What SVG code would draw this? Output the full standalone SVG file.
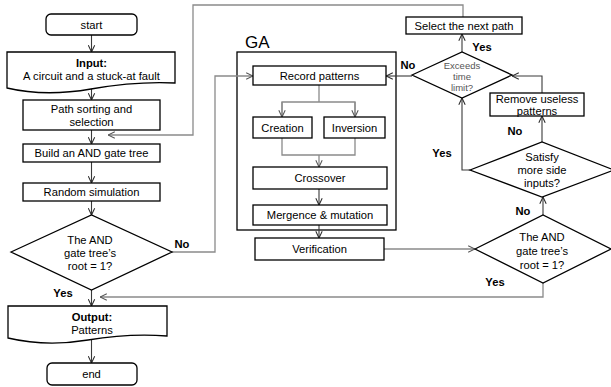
<svg xmlns="http://www.w3.org/2000/svg" width="611" height="387" viewBox="0 0 611 387">
  <style>
    .box { fill: #fff; stroke: #000; stroke-width: 1.3; }
    .t { font-family: "Liberation Sans", Arial, sans-serif; font-size: 11.2px; fill: #000; text-anchor: middle; dominant-baseline: central; }
    .b { font-weight: bold; }
    .small { font-size: 9.5px; fill: #555; }
    .ga { font-family: "Liberation Sans", Arial, sans-serif; font-size: 17px; fill: #000; }
    .dark { fill: none; stroke: #3a3a3a; stroke-width: 1.1; }
    .grey { fill: none; stroke: #8a8a8a; stroke-width: 1.3; }
  </style>
  <defs>
    <marker id="ahD" viewBox="0 0 10 10" refX="9.5" refY="5" markerWidth="8" markerHeight="8" markerUnits="userSpaceOnUse" orient="auto">
      <path d="M1,1 L9.5,5 L1,9" fill="none" stroke="#2a2a2a" stroke-width="1.3"/>
    </marker>
    <marker id="ahG" viewBox="0 0 10 10" refX="9.5" refY="5" markerWidth="8" markerHeight="8" markerUnits="userSpaceOnUse" orient="auto">
      <path d="M1,1 L9.5,5 L1,9" fill="none" stroke="#555" stroke-width="1.3"/>
    </marker>
  </defs>

  <!-- GA container -->
  <g id="ga">
    <rect x="237" y="52" width="159" height="178" fill="none" stroke="#000" stroke-width="1.3"/>
    <text class="ga" x="245" y="48">GA</text>
  </g>

  <!-- connectors -->
  <g id="connectors">
    <line class="dark" x1="91.5" y1="35" x2="91.5" y2="52" marker-end="url(#ahD)"/>
    <line class="dark" x1="91.5" y1="88" x2="91.5" y2="100" marker-end="url(#ahD)"/>
    <line class="dark" x1="91.5" y1="130" x2="91.5" y2="144" marker-end="url(#ahD)"/>
    <line class="dark" x1="91.5" y1="162" x2="91.5" y2="183" marker-end="url(#ahD)"/>
    <line class="dark" x1="91.5" y1="201" x2="91.5" y2="215" marker-end="url(#ahD)"/>
    <line class="dark" x1="91.5" y1="290" x2="91.5" y2="306" marker-end="url(#ahD)"/>
    <line class="dark" x1="91.5" y1="340" x2="91.5" y2="363" marker-end="url(#ahD)"/>
    <!-- diamond 1 No -> GA -->
    <polyline class="grey" points="172,252 215,252 215,76 253,76" marker-end="url(#ahG)"/>
    <!-- select next path -> path sorting -->
    <polyline class="grey" points="463,17 463,5 193,5 193,135 108,135" marker-end="url(#ahG)"/>
    <!-- GA internal -->
    <polyline class="grey" points="319,85 319,102"/>
    <polyline class="grey" points="282,116 282,102 355,102 355,116"/>
    <line class="grey" x1="282" y1="102" x2="282" y2="117" marker-end="url(#ahG)"/>
    <line class="grey" x1="355" y1="102" x2="355" y2="117" marker-end="url(#ahG)"/>
    <polyline class="grey" points="282,138 282,155 355,155 355,138"/>
    <line class="grey" x1="319" y1="155" x2="319" y2="167" marker-end="url(#ahG)"/>
    <line class="dark" x1="319" y1="189" x2="319" y2="205" marker-end="url(#ahD)"/>
    <line class="dark" x1="319" y1="225" x2="319" y2="238" marker-end="url(#ahD)"/>
    <!-- verification -> diamond 2 -->
    <line class="grey" x1="384" y1="249" x2="475" y2="249" marker-end="url(#ahG)"/>
    <!-- diamond 2 Yes -> output -->
    <polyline class="grey" points="543,283 543,297 100,297" marker-end="url(#ahG)"/>
    <!-- diamond 2 No -> diamond 4 -->
    <line class="dark" x1="543" y1="215" x2="543" y2="197" marker-end="url(#ahD)"/>
    <!-- diamond 4 No -> remove -->
    <line class="dark" x1="542" y1="142" x2="542" y2="116" marker-end="url(#ahD)"/>
    <!-- diamond 4 Yes -> diamond 3 -->
    <polyline class="dark" points="470,170 462,170 462,98" marker-end="url(#ahD)"/>
    <!-- remove -> diamond 3 -->
    <polyline class="dark" points="542,93 542,76 512,76" marker-end="url(#ahD)"/>
    <!-- diamond 3 Yes -> select -->
    <line class="dark" x1="462" y1="52" x2="462" y2="34" marker-end="url(#ahD)"/>
    <!-- diamond 3 No -> record -->
    <line class="dark" x1="412" y1="76" x2="386" y2="76" marker-end="url(#ahD)"/>
  </g>

  <g id="start">
    <rect class="box" x="46" y="14" width="91" height="21" rx="5"/>
    <text class="t" x="91.5" y="24.5">start</text>
  </g>
  <g id="input">
    <path class="box" d="M7,52 H175 V83 Q137,81 91,89 T7,88 Z"/>
    <text class="t b" x="91.5" y="63">Input:</text>
    <text class="t" x="91.5" y="76">A circuit and a stuck-at fault</text>
  </g>
  <g id="path-sorting">
    <rect class="box" x="23" y="100" width="137" height="30"/>
    <text class="t" x="91.5" y="109">Path sorting and</text>
    <text class="t" x="91.5" y="122">selection</text>
  </g>
  <g id="build-tree">
    <rect class="box" x="23" y="144" width="137" height="18"/>
    <text class="t" x="91.5" y="153">Build an AND gate tree</text>
  </g>
  <g id="random-sim">
    <rect class="box" x="23" y="183" width="137" height="18"/>
    <text class="t" x="91.5" y="192">Random simulation</text>
  </g>
  <g id="root-check-1">
    <polygon class="box" points="11,252 91.5,215 172,252 91.5,290"/>
    <text class="t" x="90" y="240">The AND</text>
    <text class="t" x="90" y="253">gate tree’s</text>
    <text class="t" x="90" y="266">root = 1?</text>
    <text class="t b" x="182" y="244">No</text>
    <text class="t b" x="63" y="293">Yes</text>
  </g>
  <g id="output">
    <path class="box" d="M8,306 H167 V336 Q130,333 88,340 T8,338 Z"/>
    <text class="t b" x="92" y="317">Output:</text>
    <text class="t" x="92" y="330">Patterns</text>
  </g>
  <g id="end">
    <rect class="box" x="47" y="363" width="90" height="22" rx="5"/>
    <text class="t" x="91.5" y="374">end</text>
  </g>

  <g id="record">
    <rect class="box" x="253" y="66" width="133" height="19"/>
    <text class="t" x="319.5" y="76">Record patterns</text>
  </g>
  <g id="creation">
    <rect class="box" x="253" y="117" width="59" height="21"/>
    <text class="t" x="282.5" y="128">Creation</text>
  </g>
  <g id="inversion">
    <rect class="box" x="324" y="117" width="61" height="21"/>
    <text class="t" x="354.5" y="128">Inversion</text>
  </g>
  <g id="crossover">
    <rect class="box" x="253" y="167" width="134" height="22"/>
    <text class="t" x="320" y="178">Crossover</text>
  </g>
  <g id="mergence">
    <rect class="box" x="253" y="205" width="134" height="20"/>
    <text class="t" x="320" y="215">Mergence &amp; mutation</text>
  </g>
  <g id="verification">
    <rect class="box" x="255" y="238" width="129" height="22"/>
    <text class="t" x="319.5" y="249">Verification</text>
  </g>

  <g id="select-next">
    <rect class="box" x="406" y="17" width="116" height="17"/>
    <text class="t" x="464" y="26">Select the next path</text>
  </g>
  <g id="time-limit">
    <polygon class="box" points="412,75 462,52 512,75 462,98"/>
    <text class="t small" x="462" y="65">Exceeds</text>
    <text class="t small" x="462" y="76">time</text>
    <text class="t small" x="462" y="87">limit?</text>
    <text class="t b" x="408" y="65">No</text>
    <text class="t b" x="482" y="47">Yes</text>
  </g>
  <g id="remove-useless">
    <rect class="box" x="490" y="93" width="94" height="23"/>
    <text class="t" x="537" y="99">Remove useless</text>
    <text class="t" x="537" y="111">patterns</text>
  </g>
  <g id="side-inputs">
    <polygon class="box" points="470,170 542,142 614,170 542,197"/>
    <text class="t" x="542" y="157">Satisfy</text>
    <text class="t" x="542" y="170">more side</text>
    <text class="t" x="542" y="183">inputs?</text>
    <text class="t b" x="515" y="131">No</text>
    <text class="t b" x="442" y="153">Yes</text>
  </g>
  <g id="root-check-2">
    <polygon class="box" points="475,249 543,215 611,249 543,283"/>
    <text class="t" x="542" y="237">The AND</text>
    <text class="t" x="542" y="251">gate tree’s</text>
    <text class="t" x="542" y="265">root = 1?</text>
    <text class="t b" x="523" y="211">No</text>
    <text class="t b" x="495" y="282">Yes</text>
  </g>
</svg>
